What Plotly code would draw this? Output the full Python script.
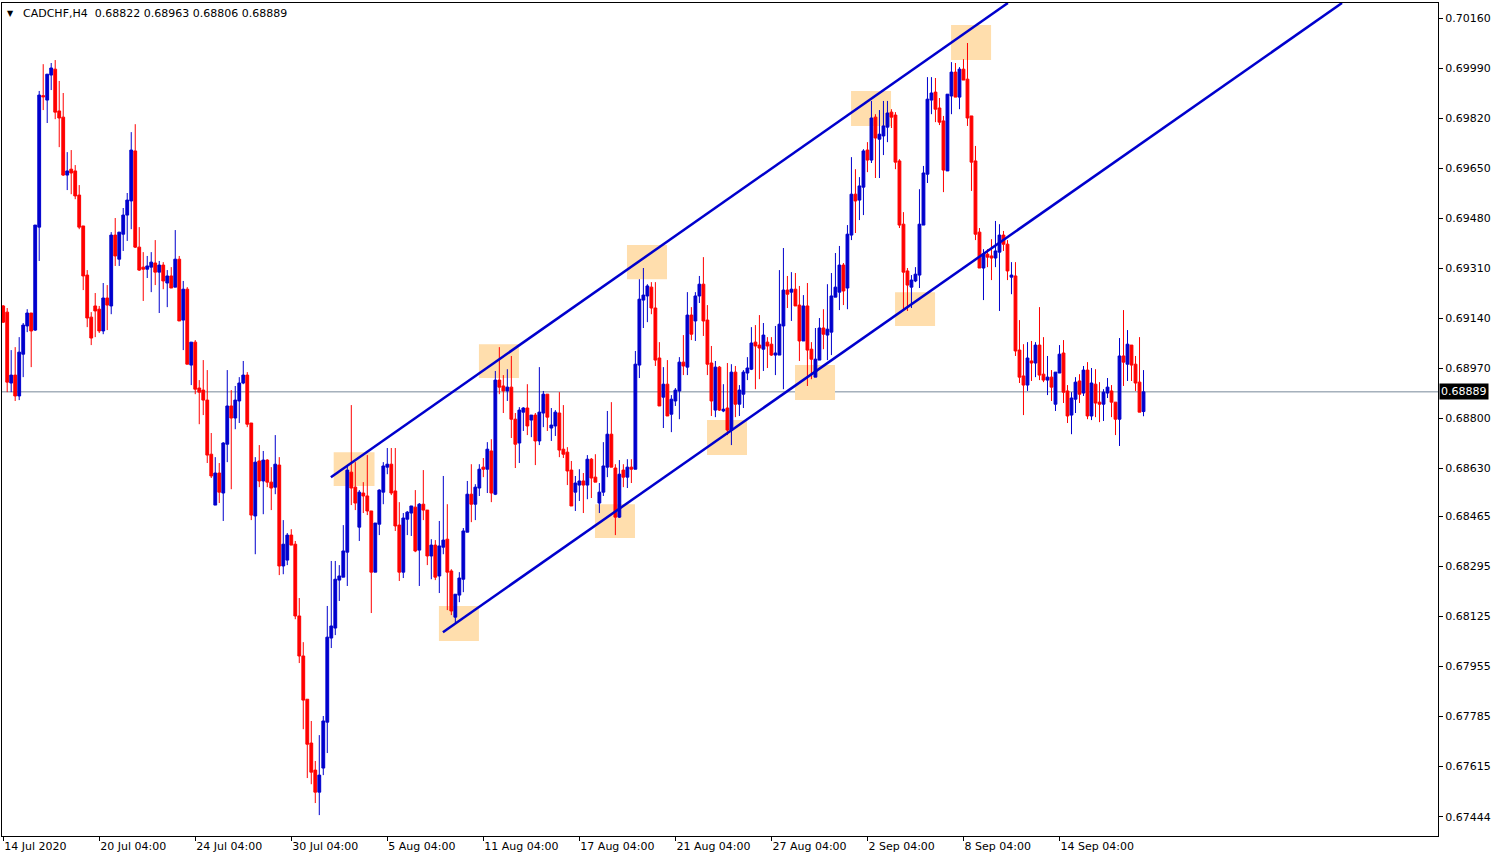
import plotly.graph_objects as go

# CADCHF H4 candles, bar 0 = 14 Jul 2020
opens = [
    0.69181, 0.69160, 0.68919, 0.68946, 0.68875, 0.69017, 0.69113, 0.69157, 0.69099, 0.69449,
    0.69896, 0.69881, 0.69966, 0.69986, 0.69844, 0.69823, 0.69626, 0.69646, 0.69640, 0.69558,
    0.69453, 0.69286, 0.69143, 0.69181, 0.69170, 0.69096, 0.69208, 0.69181, 0.69422, 0.69340,
    0.69425, 0.69490, 0.69538, 0.69708, 0.69381, 0.69313, 0.69306, 0.69313, 0.69327, 0.69296,
    0.69320, 0.69259, 0.69283, 0.69245, 0.69340, 0.69133, 0.69238, 0.68980, 0.69058, 0.68902,
    0.68895, 0.68861, 0.68677, 0.68504, 0.68613, 0.68545, 0.68711, 0.68841, 0.68800, 0.68858,
    0.68919, 0.68946, 0.68783, 0.68467, 0.68654, 0.68586, 0.68657, 0.68582, 0.68565, 0.68640,
    0.68297, 0.68317, 0.68402, 0.68371, 0.68127, 0.67991, 0.67844, 0.67695, 0.67603, 0.67528,
    0.67610, 0.67766, 0.68052, 0.68086, 0.68249, 0.68259, 0.68344, 0.68616, 0.68565, 0.68429,
    0.68545, 0.68535, 0.68484, 0.68276, 0.68439, 0.68548, 0.68633, 0.68643, 0.68552, 0.68436,
    0.68276, 0.68456, 0.68477, 0.68497, 0.68351, 0.68507, 0.68487, 0.68331, 0.68368, 0.68263,
    0.68361, 0.68388, 0.68280, 0.68123, 0.68198, 0.68252, 0.68412, 0.68541, 0.68507, 0.68562,
    0.68633, 0.68626, 0.68688, 0.68541, 0.68929, 0.68909, 0.68892, 0.68905, 0.68796, 0.68715,
    0.68820, 0.68834, 0.68793, 0.68810, 0.68722, 0.68817, 0.68881, 0.68766, 0.68773, 0.68817,
    0.68694, 0.68684, 0.68623, 0.68548, 0.68572, 0.68586, 0.68572, 0.68660, 0.68599, 0.68511,
    0.68548, 0.68633, 0.68745, 0.68630, 0.68463, 0.68623, 0.68599, 0.68633, 0.68626, 0.68980,
    0.69201, 0.69215, 0.69245, 0.69174, 0.69004, 0.68871, 0.68915, 0.68813, 0.68858, 0.68892,
    0.68990, 0.68973, 0.69150, 0.69130, 0.69215, 0.69255, 0.69133, 0.68987, 0.68827, 0.68973,
    0.68824, 0.68834, 0.68759, 0.68956, 0.68847, 0.68881, 0.68953, 0.68966, 0.69058, 0.69048,
    0.69034, 0.69058, 0.69051, 0.69014, 0.69014, 0.69113, 0.69235, 0.69228, 0.69238, 0.69184,
    0.69062, 0.69181, 0.69034, 0.68939, 0.68997, 0.69106, 0.69082, 0.69092, 0.69211, 0.69228,
    0.69320, 0.69242, 0.69422, 0.69561, 0.69541, 0.69585, 0.69711, 0.69677, 0.69823, 0.69748,
    0.69759, 0.69789, 0.69840, 0.69830, 0.69674, 0.69459, 0.69300, 0.69245, 0.69266, 0.69286,
    0.69456, 0.69629, 0.69881, 0.69908, 0.69854, 0.69810, 0.69640, 0.69895, 0.69976, 0.69891,
    0.69986, 0.69952, 0.69827, 0.69674, 0.69432, 0.69310, 0.69357, 0.69351, 0.69344, 0.69364,
    0.69422, 0.69391, 0.69279, 0.69283, 0.69031, 0.68943, 0.68912, 0.68994, 0.68987, 0.69048,
    0.68949, 0.68929, 0.68939, 0.68847, 0.68953, 0.69021, 0.68892, 0.68810, 0.68864, 0.68926,
    0.68885, 0.68963, 0.68807, 0.68915, 0.68854, 0.68847, 0.68885, 0.68892, 0.68854, 0.68796,
    0.69011, 0.68983, 0.69048, 0.68983, 0.68922, 0.68822,
]
highs = [
    0.69184, 0.69174, 0.69031, 0.69041, 0.69075, 0.69123, 0.69170, 0.69157, 0.69456, 0.69912,
    0.70003, 0.69969, 0.70007, 0.70017, 0.69946, 0.69905, 0.69704, 0.69711, 0.69660, 0.69592,
    0.69453, 0.69303, 0.69160, 0.69225, 0.69181, 0.69259, 0.69252, 0.69432, 0.69480, 0.69432,
    0.69514, 0.69565, 0.69772, 0.69799, 0.69449, 0.69364, 0.69351, 0.69364, 0.69405, 0.69334,
    0.69330, 0.69303, 0.69313, 0.69439, 0.69351, 0.69266, 0.69245, 0.69058, 0.69065, 0.68929,
    0.68997, 0.68963, 0.68749, 0.68667, 0.68647, 0.68718, 0.68963, 0.68895, 0.68909, 0.68939,
    0.68994, 0.68956, 0.68783, 0.68667, 0.68708, 0.68688, 0.68660, 0.68633, 0.68742, 0.68667,
    0.68453, 0.68409, 0.68422, 0.68382, 0.68188, 0.68038, 0.67844, 0.67770, 0.67634, 0.67722,
    0.67787, 0.68161, 0.68314, 0.68314, 0.68300, 0.68436, 0.68640, 0.68844, 0.68650, 0.68555,
    0.68582, 0.68674, 0.68484, 0.68443, 0.68558, 0.68650, 0.68698, 0.68698, 0.68698, 0.68514,
    0.68477, 0.68484, 0.68501, 0.68555, 0.68511, 0.68623, 0.68487, 0.68388, 0.68385, 0.68450,
    0.68603, 0.68507, 0.68286, 0.68201, 0.68276, 0.68426, 0.68586, 0.68643, 0.68575, 0.68643,
    0.68664, 0.68718, 0.68728, 0.68960, 0.69041, 0.68946, 0.68966, 0.69011, 0.68817, 0.68837,
    0.68837, 0.68915, 0.68810, 0.68817, 0.68973, 0.68892, 0.68881, 0.68834, 0.68827, 0.68888,
    0.68844, 0.68701, 0.68654, 0.68603, 0.68626, 0.68613, 0.68674, 0.68664, 0.68677, 0.68579,
    0.68718, 0.68824, 0.68854, 0.68643, 0.68657, 0.68643, 0.68660, 0.68660, 0.69028, 0.69272,
    0.69310, 0.69255, 0.69262, 0.69262, 0.69058, 0.68973, 0.68997, 0.68878, 0.68902, 0.69007,
    0.69082, 0.69228, 0.69177, 0.69228, 0.69283, 0.69347, 0.69184, 0.69045, 0.68994, 0.68977,
    0.68915, 0.68987, 0.68983, 0.68977, 0.68912, 0.68963, 0.69007, 0.69109, 0.69116, 0.69150,
    0.69123, 0.69075, 0.69075, 0.69113, 0.69303, 0.69378, 0.69283, 0.69296, 0.69293, 0.69249,
    0.69218, 0.69259, 0.69058, 0.69106, 0.69140, 0.69170, 0.69255, 0.69293, 0.69361, 0.69385,
    0.69327, 0.69456, 0.69687, 0.69646, 0.69619, 0.69714, 0.69738, 0.69878, 0.69833, 0.69847,
    0.69878, 0.69878, 0.69850, 0.69840, 0.69680, 0.69500, 0.69310, 0.69286, 0.69313, 0.69578,
    0.69657, 0.69959, 0.69959, 0.69956, 0.69888, 0.69827, 0.69901, 0.70010, 0.70007, 0.69993,
    0.70020, 0.70075, 0.69827, 0.69725, 0.69446, 0.69374, 0.69374, 0.69408, 0.69470, 0.69459,
    0.69436, 0.69405, 0.69330, 0.69330, 0.69133, 0.69051, 0.69058, 0.69062, 0.69058, 0.69177,
    0.69075, 0.69011, 0.68963, 0.68956, 0.69048, 0.69065, 0.68912, 0.68888, 0.68939, 0.68949,
    0.68977, 0.68990, 0.68970, 0.68966, 0.68922, 0.68898, 0.68936, 0.68912, 0.68854, 0.69072,
    0.69167, 0.69099, 0.69048, 0.69011, 0.69075, 0.68963,
]
lows = [
    0.69123, 0.68888, 0.68888, 0.68858, 0.68861, 0.68939, 0.69092, 0.68973, 0.69096, 0.69334,
    0.69847, 0.69803, 0.69915, 0.69816, 0.69721, 0.69623, 0.69575, 0.69561, 0.69544, 0.69442,
    0.69235, 0.69109, 0.69048, 0.69075, 0.69089, 0.69085, 0.69099, 0.69153, 0.69317, 0.69317,
    0.69368, 0.69402, 0.69442, 0.69378, 0.69300, 0.69198, 0.69276, 0.69228, 0.69252, 0.69157,
    0.69238, 0.69177, 0.69242, 0.69245, 0.69130, 0.69031, 0.68983, 0.68912, 0.68881, 0.68779,
    0.68810, 0.68647, 0.68596, 0.68504, 0.68511, 0.68450, 0.68650, 0.68558, 0.68762, 0.68783,
    0.68915, 0.68769, 0.68453, 0.68337, 0.68565, 0.68473, 0.68565, 0.68487, 0.68541, 0.68266,
    0.68269, 0.68300, 0.68368, 0.68116, 0.67967, 0.67742, 0.67576, 0.67555, 0.67491, 0.67450,
    0.67586, 0.67661, 0.68018, 0.68062, 0.68178, 0.68259, 0.68229, 0.68504, 0.68487, 0.68382,
    0.68477, 0.68470, 0.68137, 0.68276, 0.68402, 0.68507, 0.68609, 0.68538, 0.68416, 0.68246,
    0.68256, 0.68402, 0.68399, 0.68344, 0.68229, 0.68453, 0.68300, 0.68252, 0.68249, 0.68205,
    0.68337, 0.68147, 0.68130, 0.68103, 0.68174, 0.68208, 0.68412, 0.68446, 0.68453, 0.68535,
    0.68599, 0.68545, 0.68514, 0.68538, 0.68881, 0.68817, 0.68858, 0.68732, 0.68630, 0.68647,
    0.68756, 0.68742, 0.68735, 0.68640, 0.68708, 0.68769, 0.68756, 0.68722, 0.68739, 0.68667,
    0.68664, 0.68572, 0.68501, 0.68484, 0.68518, 0.68477, 0.68524, 0.68528, 0.68582, 0.68477,
    0.68535, 0.68599, 0.68633, 0.68402, 0.68460, 0.68565, 0.68562, 0.68579, 0.68626, 0.68936,
    0.69106, 0.69126, 0.69153, 0.68977, 0.68841, 0.68766, 0.68807, 0.68752, 0.68841, 0.68796,
    0.68946, 0.68946, 0.69065, 0.69062, 0.69191, 0.69079, 0.68946, 0.68807, 0.68803, 0.68824,
    0.68820, 0.68742, 0.68708, 0.68803, 0.68807, 0.68834, 0.68929, 0.68963, 0.68898, 0.68932,
    0.68960, 0.68970, 0.69011, 0.68946, 0.69014, 0.68898, 0.69174, 0.69130, 0.69181, 0.68994,
    0.69062, 0.68909, 0.68932, 0.68939, 0.68997, 0.69034, 0.68997, 0.69014, 0.69211, 0.69167,
    0.69184, 0.69170, 0.69405, 0.69429, 0.69473, 0.69490, 0.69636, 0.69667, 0.69616, 0.69616,
    0.69694, 0.69738, 0.69786, 0.69646, 0.69446, 0.69167, 0.69164, 0.69174, 0.69262, 0.69242,
    0.69456, 0.69599, 0.69833, 0.69806, 0.69796, 0.69568, 0.69640, 0.69833, 0.69891, 0.69850,
    0.69949, 0.69793, 0.69572, 0.69405, 0.69310, 0.69201, 0.69313, 0.69269, 0.69313, 0.69164,
    0.69368, 0.69269, 0.69221, 0.69011, 0.68919, 0.68810, 0.68892, 0.68926, 0.68939, 0.68929,
    0.68922, 0.68878, 0.68858, 0.68824, 0.68953, 0.68851, 0.68783, 0.68745, 0.68817, 0.68851,
    0.68875, 0.68796, 0.68793, 0.68803, 0.68786, 0.68790, 0.68868, 0.68803, 0.68742, 0.68705,
    0.68909, 0.68926, 0.68926, 0.68892, 0.68820, 0.68806,
]
closes = [
    0.69126, 0.68922, 0.68946, 0.68875, 0.69024, 0.69116, 0.69157, 0.69096, 0.69456, 0.69898,
    0.69892, 0.69969, 0.69990, 0.69840, 0.69820, 0.69626, 0.69640, 0.69633, 0.69555, 0.69449,
    0.69283, 0.69140, 0.69072, 0.69164, 0.69096, 0.69208, 0.69184, 0.69422, 0.69351, 0.69432,
    0.69490, 0.69541, 0.69711, 0.69381, 0.69303, 0.69306, 0.69317, 0.69330, 0.69296, 0.69320,
    0.69266, 0.69283, 0.69242, 0.69340, 0.69130, 0.69238, 0.68983, 0.69058, 0.68898, 0.68888,
    0.68861, 0.68674, 0.68603, 0.68613, 0.68548, 0.68715, 0.68841, 0.68800, 0.68861, 0.68919,
    0.68946, 0.68779, 0.68470, 0.68650, 0.68586, 0.68657, 0.68582, 0.68562, 0.68643, 0.68297,
    0.68371, 0.68402, 0.68368, 0.68127, 0.67991, 0.67841, 0.67691, 0.67596, 0.67528, 0.67586,
    0.67770, 0.68055, 0.68093, 0.68252, 0.68263, 0.68348, 0.68623, 0.68562, 0.68511, 0.68548,
    0.68535, 0.68484, 0.68276, 0.68443, 0.68555, 0.68637, 0.68643, 0.68545, 0.68433, 0.68276,
    0.68460, 0.68480, 0.68501, 0.68348, 0.68507, 0.68487, 0.68331, 0.68368, 0.68259, 0.68365,
    0.68385, 0.68276, 0.68144, 0.68201, 0.68256, 0.68416, 0.68541, 0.68507, 0.68565, 0.68626,
    0.68626, 0.68694, 0.68545, 0.68929, 0.68905, 0.68892, 0.68905, 0.68796, 0.68711, 0.68827,
    0.68834, 0.68773, 0.68810, 0.68722, 0.68820, 0.68881, 0.68803, 0.68776, 0.68820, 0.68691,
    0.68677, 0.68620, 0.68501, 0.68579, 0.68586, 0.68572, 0.68660, 0.68596, 0.68582, 0.68548,
    0.68637, 0.68745, 0.68633, 0.68463, 0.68609, 0.68599, 0.68633, 0.68626, 0.68983, 0.69204,
    0.69218, 0.69249, 0.69174, 0.68997, 0.68841, 0.68915, 0.68807, 0.68864, 0.68895, 0.68990,
    0.68977, 0.69150, 0.69085, 0.69215, 0.69255, 0.69130, 0.68983, 0.68858, 0.68973, 0.68827,
    0.68830, 0.68759, 0.68956, 0.68847, 0.68895, 0.68956, 0.68970, 0.69055, 0.69045, 0.69038,
    0.69082, 0.69045, 0.69014, 0.69021, 0.69119, 0.69235, 0.69221, 0.69238, 0.69181, 0.69062,
    0.69181, 0.69031, 0.69000, 0.69000, 0.69106, 0.69085, 0.69102, 0.69215, 0.69245, 0.69320,
    0.69232, 0.69425, 0.69561, 0.69538, 0.69589, 0.69708, 0.69677, 0.69820, 0.69752, 0.69765,
    0.69793, 0.69837, 0.69823, 0.69670, 0.69456, 0.69296, 0.69252, 0.69269, 0.69289, 0.69459,
    0.69633, 0.69884, 0.69905, 0.69850, 0.69806, 0.69643, 0.69901, 0.69976, 0.69891, 0.69986,
    0.69949, 0.69820, 0.69670, 0.69425, 0.69310, 0.69357, 0.69347, 0.69344, 0.69368, 0.69422,
    0.69391, 0.69300, 0.69286, 0.69028, 0.68939, 0.68912, 0.69004, 0.68987, 0.69048, 0.68946,
    0.68929, 0.68939, 0.68905, 0.68956, 0.69017, 0.68888, 0.68807, 0.68868, 0.68922, 0.68881,
    0.68963, 0.68807, 0.68919, 0.68851, 0.68847, 0.68888, 0.68905, 0.68854, 0.68796, 0.69011,
    0.68990, 0.69051, 0.68980, 0.68919, 0.68820, 0.68889,
]
bars = list(range(len(closes)))

# time axis labels (every 24 bars)
tick_bars = [0, 24, 48, 72, 96, 120, 144, 168, 192, 216, 240, 264]
tick_text = ["14 Jul 2020", "20 Jul 04:00", "24 Jul 04:00", "30 Jul 04:00", "5 Aug 04:00",
             "11 Aug 04:00", "17 Aug 04:00", "21 Aug 04:00", "27 Aug 04:00", "2 Sep 04:00",
             "8 Sep 04:00", "14 Sep 04:00"]
price_ticks = [0.70160, 0.69990, 0.69820, 0.69650, 0.69480, 0.69310, 0.69140, 0.68970, 0.68800,
               0.68630, 0.68465, 0.68295, 0.68125, 0.67955, 0.67785, 0.67615, 0.67444]

# ascending channel (start point, point where it leaves the top of the chart)
upper_bars = [81.9, 251.1]
upper_prices = [0.68599, 0.70211]
lower_bars = [109.9, 334.6]
lower_prices = [0.68072, 0.70211]

# highlighted touch zones
zone_start = [82.6, 118.9, 155.9, 211.9, 236.9, 108.9, 147.9, 175.9, 197.9, 222.9]
zone_end = [92.8, 128.9, 165.9, 221.9, 246.9, 118.9, 157.9, 185.9, 207.9, 232.9]
zone_top = [0.68684, 0.69051, 0.69388, 0.69912, 0.70136, 0.68161, 0.68507, 0.68793, 0.68980, 0.69228]
zone_bottom = [0.68569, 0.68936, 0.69272, 0.69793, 0.70017, 0.68042, 0.68392, 0.68674, 0.68861, 0.69113]

BULL = '#0000CD'
BEAR = '#FF0000'
FONT = 'DejaVu Sans'

fig = go.Figure()

fig.add_trace(go.Candlestick(
    x=bars, open=opens, high=highs, low=lows, close=closes,
    increasing=dict(line=dict(color=BULL, width=1), fillcolor=BULL),
    decreasing=dict(line=dict(color=BEAR, width=1), fillcolor=BEAR),
    whiskerwidth=0, hoverinfo='skip', showlegend=False,
))

# channel lines on top of the candles
for xs, ys in [(upper_bars, upper_prices), (lower_bars, lower_prices)]:
    fig.add_trace(go.Scatter(x=xs, y=ys, mode='lines', line=dict(color=BULL, width=2.5),
                             hoverinfo='skip', showlegend=False))

shapes = []
for x0, x1, y0, y1 in zip(zone_start, zone_end, zone_bottom, zone_top):
    shapes.append(dict(type='rect', xref='x', yref='y', x0=x0, x1=x1, y0=y0, y1=y1,
                       fillcolor='#FFDEAD', line=dict(width=0), layer='below'))

# bid line
shapes.append(dict(type='line', xref='paper', yref='y', x0=0, x1=1, y0=closes[-1], y1=closes[-1],
                   line=dict(color='#778899', width=1), layer='below'))

header = f"CADCHF,H4\u00a0\u00a0{opens[-1]:.5f} {highs[-1]:.5f} {lows[-1]:.5f} {closes[-1]:.5f}"

annotations = [
    dict(xref='paper', yref='paper', x=0, y=1, xanchor='left', yanchor='top', xshift=3, yshift=-4,
         text='\u25bc', showarrow=False, font=dict(family=FONT, size=8, color='black')),
    dict(xref='paper', yref='paper', x=0, y=1, xanchor='left', yanchor='top', xshift=19, yshift=-2,
         text=header, showarrow=False, font=dict(family=FONT, size=11, color='black')),
    dict(xref='paper', yref='y', x=1, y=closes[-1], xanchor='left', yanchor='middle', xshift=1,
         text=f"{closes[-1]:.5f}", showarrow=False, bgcolor='black', borderpad=1,
         font=dict(family=FONT, size=11, color='white')),
]

fig.update_layout(
    width=1502, height=860,
    margin=dict(l=2, r=64, t=3, b=24),
    plot_bgcolor='white', paper_bgcolor='white',
    showlegend=False,
    boxgap=0.3, boxgroupgap=0,
    shapes=shapes,
    annotations=annotations,
    font=dict(family=FONT, size=11, color='black'),
    xaxis=dict(
        range=[-0.3, 358.6], rangeslider=dict(visible=False),
        tickvals=tick_bars, ticktext=tick_text, ticklabelposition='outside right',
        ticks='outside', ticklen=4, tickcolor='black',
        showline=True, linecolor='black', linewidth=1, mirror=True,
        showgrid=False, zeroline=False,
    ),
    yaxis=dict(
        side='right', range=[0.67379, 0.70211],
        tickvals=price_ticks, tickformat='.5f',
        ticks='outside', ticklen=4, tickcolor='black',
        showline=True, linecolor='black', linewidth=1, mirror=True,
        showgrid=False, zeroline=False,
    ),
)

fig.write_html("out.html", config={'displayModeBar': False},
               post_script="document.body.style.margin='0';")
